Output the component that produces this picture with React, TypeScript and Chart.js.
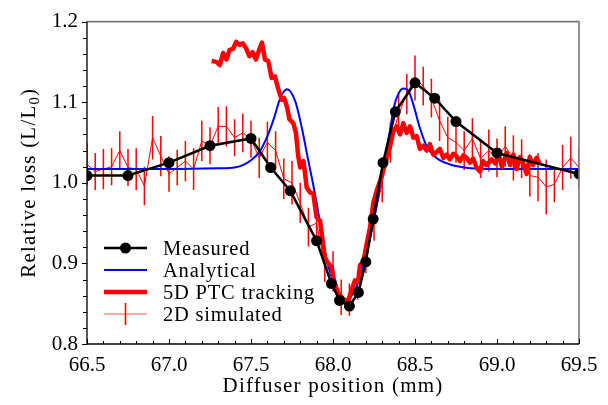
import React, { useEffect, useRef } from "react";
import { Chart, registerables } from "chart.js";

Chart.register(...registerables);

// Measured beam loss vs diffuser position
const measuredX = [66.5, 66.75, 67.0, 67.25, 67.5, 67.62, 67.74, 67.9, 67.99, 68.04, 68.1, 68.155, 68.2, 68.245, 68.305, 68.38, 68.5, 68.62, 68.75, 69.0, 69.5];
const measuredY = [1.009, 1.009, 1.025, 1.046, 1.055, 1.019, 0.99, 0.928, 0.875, 0.854, 0.847, 0.864, 0.902, 0.955, 1.025, 1.088, 1.124, 1.105, 1.076, 1.037, 1.011];

// Analytical model
const analyticX = [66.5, 67.0, 67.3, 67.4, 67.45, 67.5, 67.55, 67.6, 67.64, 67.68, 67.72, 67.77, 67.81, 67.85, 67.88, 67.9, 67.93, 67.96, 67.99, 68.03, 68.08, 68.12, 68.165, 68.205, 68.245, 68.285, 68.325, 68.35, 68.37, 68.4, 68.43, 68.46, 68.49, 68.53, 68.57, 68.63, 68.71, 68.8, 69.0, 69.5];
const analyticY = [1.017, 1.017, 1.018, 1.019, 1.022, 1.028, 1.038, 1.058, 1.08, 1.106, 1.116, 1.101, 1.068, 1.027, 0.997, 0.975, 0.94, 0.906, 0.884, 0.864, 0.854, 0.862, 0.883, 0.912, 0.949, 0.994, 1.04, 1.068, 1.093, 1.111, 1.117, 1.114, 1.097, 1.068, 1.046, 1.031, 1.023, 1.019, 1.017, 1.017];

// 5D PTC tracking
const ptcX = [67.26, 67.29, 67.31, 67.33, 67.35, 67.37, 67.39, 67.41, 67.43, 67.45, 67.47, 67.49, 67.51, 67.53, 67.55, 67.567, 67.585, 67.605, 67.626, 67.646, 67.667, 67.687, 67.703, 67.721, 67.734, 67.758, 67.774, 67.788, 67.8, 67.82, 67.84, 67.86, 67.88, 67.9, 67.921, 67.937, 67.951, 67.971, 67.992, 68.012, 68.032, 68.053, 68.073, 68.093, 68.114, 68.134, 68.154, 68.165, 68.185, 68.205, 68.226, 68.246, 68.266, 68.287, 68.317, 68.348, 68.368, 68.388, 68.409, 68.429, 68.449, 68.47, 68.49, 68.51, 68.53, 68.551, 68.571, 68.591, 68.612, 68.632, 68.652, 68.673, 68.693, 68.713, 68.734, 68.754, 68.774, 68.795, 68.815, 68.835, 68.855, 68.875, 68.896, 68.915, 68.935, 68.968, 68.99, 69.01, 69.03, 69.059, 69.08, 69.1, 69.12, 69.14, 69.16, 69.181, 69.2, 69.22, 69.242, 69.262];
const ptcY = [1.151, 1.15, 1.146, 1.161, 1.153, 1.165, 1.166, 1.175, 1.171, 1.173, 1.167, 1.157, 1.162, 1.153, 1.165, 1.174, 1.153, 1.151, 1.13, 1.132, 1.116, 1.103, 1.105, 1.093, 1.079, 1.074, 1.062, 1.033, 1.019, 1.027, 0.994, 0.988, 0.986, 0.957, 0.953, 0.928, 0.907, 0.9, 0.896, 0.871, 0.863, 0.858, 0.854, 0.854, 0.867, 0.879, 0.877, 0.898, 0.902, 0.924, 0.945, 0.975, 0.99, 1.002, 1.023, 1.045, 1.064, 1.07, 1.06, 1.074, 1.062, 1.07, 1.056, 1.058, 1.042, 1.046, 1.04, 1.048, 1.035, 1.038, 1.042, 1.031, 1.035, 1.029, 1.036, 1.033, 1.027, 1.034, 1.031, 1.025, 1.03, 1.019, 1.014, 1.027, 1.022, 1.029, 1.024, 1.035, 1.02, 1.037, 1.022, 1.035, 1.017, 1.032, 1.024, 1.011, 1.032, 1.022, 1.031, 1.023];

// 2D simulation with statistical uncertainty
const simX = [66.5, 66.55, 66.6, 66.65, 66.7, 66.75, 66.8, 66.85, 66.9, 66.95, 67.0, 67.05, 67.1, 67.15, 67.2, 67.25, 67.3, 67.35, 67.4, 67.45, 67.5, 67.55, 67.6, 67.65, 67.7, 67.75, 67.8, 67.85, 67.9, 67.95, 68.0, 68.05, 68.1, 68.15, 68.2, 68.25, 68.3, 68.35, 68.4, 68.45, 68.5, 68.55, 68.6, 68.65, 68.7, 68.75, 68.8, 68.85, 68.9, 68.95, 69.0, 69.05, 69.1, 69.15, 69.2, 69.25, 69.3, 69.35, 69.4, 69.45, 69.5];
const simY = [1.023, 1.014, 1.017, 1.02, 1.04, 1.019, 1.017, 0.996, 1.056, 1.033, 1.011, 1.019, 1.027, 1.017, 1.052, 1.046, 1.07, 1.07, 1.056, 1.062, 1.054, 1.031, 1.05, 1.04, 1.005, 1.0, 0.975, 0.945, 0.95, 0.897, 0.89, 0.858, 0.855, 0.873, 0.908, 0.953, 1.0, 1.05, 1.085, 1.11, 1.13, 1.12, 1.105, 1.077, 1.056, 1.05, 1.04, 1.055, 1.03, 1.04, 1.031, 1.045, 1.031, 1.03, 1.009, 1.007, 0.995, 0.998, 1.019, 1.031, 1.019];
const simErr = [0.026, 0.023, 0.025, 0.023, 0.024, 0.023, 0.026, 0.024, 0.027, 0.025, 0.022, 0.022, 0.025, 0.026, 0.025, 0.023, 0.024, 0.025, 0.023, 0.024, 0.023, 0.025, 0.026, 0.024, 0.025, 0.027, 0.025, 0.024, 0.025, 0.02, 0.025, 0.022, 0.02, 0.018, 0.02, 0.025, 0.024, 0.025, 0.026, 0.025, 0.028, 0.024, 0.024, 0.025, 0.026, 0.025, 0.024, 0.025, 0.024, 0.026, 0.024, 0.025, 0.028, 0.024, 0.026, 0.03, 0.034, 0.022, 0.028, 0.026, 0.025];

const xMin = 66.5;
const xMax = 69.5;
const yMin = 0.8;
const yMax = 1.2;

const legendLabels = ["Measured", "Analytical", "5D PTC tracking", "2D simulated"];
const xTitle = "Diffuser position (mm)";
const yTitleMain = "Relative loss (L/L";
const yTitleSub = "0";
const yTitleEnd = ")";

const SERIF = '"Liberation Serif", "Times New Roman", serif';
const TICK_SIZE = 21;
const TITLE_SIZE = 21;
const LEGEND_SIZE = 20.5;
const RED = "#ff0000";
const BLUE = "#0000ff";

const toPoints = (xs: number[], ys: number[]) => xs.map((x, i) => ({ x, y: ys[i] }));

// Error bars for the 2D simulated series, drawn right after that dataset
const errorBarPlugin = {
  id: "errorBars",
  afterDatasetDraw(chart: any, args: any) {
    if (args.index !== 3) return;
    const { ctx, chartArea: a, scales } = chart;
    ctx.save();
    ctx.beginPath();
    ctx.rect(a.left, a.top, a.right - a.left, a.bottom - a.top);
    ctx.clip();
    ctx.strokeStyle = RED;
    ctx.lineWidth = 1.5;
    simX.forEach((x, i) => {
      const px = scales.x.getPixelForValue(x);
      const y1 = scales.y.getPixelForValue(simY[i] - simErr[i]);
      const y2 = scales.y.getPixelForValue(simY[i] + simErr[i]);
      ctx.beginPath();
      ctx.moveTo(px, y1);
      ctx.lineTo(px, y2);
      ctx.stroke();
    });
    ctx.restore();
  },
};

// Frame: spines, tick marks, axis titles and legend
const framePlugin = {
  id: "frame",
  afterDraw(chart: any) {
    const { ctx, chartArea: a, scales } = chart;
    ctx.save();

    // top & right spines
    ctx.strokeStyle = "#777777";
    ctx.lineWidth = 1.6;
    ctx.beginPath();
    ctx.moveTo(a.left, a.top);
    ctx.lineTo(a.right, a.top);
    ctx.lineTo(a.right, a.bottom);
    ctx.stroke();

    // left & bottom spines
    ctx.strokeStyle = "#000000";
    ctx.lineWidth = 1.3;
    ctx.beginPath();
    ctx.moveTo(a.left, a.top);
    ctx.lineTo(a.left, a.bottom);
    ctx.lineTo(a.right, a.bottom);
    ctx.stroke();

    // x ticks (inward), every 0.1, major every 0.5
    ctx.lineWidth = 1;
    const nx = Math.round((xMax - xMin) / 0.1);
    for (let i = 0; i <= nx; i++) {
      const v = xMin + i * 0.1;
      const px = Math.round(scales.x.getPixelForValue(v)) + 0.5;
      const len = i % 5 === 0 ? 5 : 3;
      ctx.beginPath();
      ctx.moveTo(px, a.bottom);
      ctx.lineTo(px, a.bottom - len);
      ctx.stroke();
    }
    // y ticks (outward), every 0.02, major every 0.1
    const ny = Math.round((yMax - yMin) / 0.02);
    for (let i = 0; i <= ny; i++) {
      const v = yMin + i * 0.02;
      const py = Math.round(scales.y.getPixelForValue(v)) + 0.5;
      const len = i % 5 === 0 ? 5 : 4;
      ctx.beginPath();
      ctx.moveTo(a.left, py);
      ctx.lineTo(a.left - len, py);
      ctx.stroke();
    }

    // axis titles
    ctx.fillStyle = "#000";
    ctx.font = `${TITLE_SIZE}px ${SERIF}`;
    ctx.letterSpacing = "1.2px";
    ctx.textAlign = "center";
    ctx.textBaseline = "alphabetic";
    ctx.fillText(xTitle, (a.left + a.right) / 2, 392);

    ctx.save();
    ctx.translate(35, (a.top + a.bottom) / 2);
    ctx.rotate(-Math.PI / 2);
    const subFont = `${TITLE_SIZE * 0.7}px ${SERIF}`;
    const mainFont = `${TITLE_SIZE}px ${SERIF}`;
    ctx.font = mainFont;
    const w1 = ctx.measureText(yTitleMain).width;
    const w3 = ctx.measureText(yTitleEnd).width;
    ctx.font = subFont;
    const w2 = ctx.measureText(yTitleSub).width;
    const total = w1 + w2 + w3;
    let cx = -total / 2;
    ctx.textAlign = "left";
    ctx.font = mainFont;
    ctx.fillText(yTitleMain, cx, 0);
    cx += w1;
    ctx.font = subFont;
    ctx.fillText(yTitleSub, cx, 4);
    cx += w2;
    ctx.font = mainFont;
    ctx.fillText(yTitleEnd, cx, 0);
    ctx.restore();

    // legend
    const rows = [248, 270, 292, 314];
    const lx1 = 104;
    const lx2 = 147;
    const lxc = (lx1 + lx2) / 2;
    const tx = 163;
    ctx.lineCap = "butt";
    // Measured
    ctx.strokeStyle = "#000";
    ctx.lineWidth = 2.5;
    ctx.beginPath();
    ctx.moveTo(lx1, rows[0]);
    ctx.lineTo(lx2, rows[0]);
    ctx.stroke();
    ctx.fillStyle = "#000";
    ctx.beginPath();
    ctx.arc(lxc, rows[0], 5.5, 0, Math.PI * 2);
    ctx.fill();
    // Analytical
    ctx.strokeStyle = BLUE;
    ctx.lineWidth = 2;
    ctx.beginPath();
    ctx.moveTo(lx1, rows[1]);
    ctx.lineTo(lx2, rows[1]);
    ctx.stroke();
    // 5D PTC
    ctx.strokeStyle = RED;
    ctx.lineWidth = 4.5;
    ctx.beginPath();
    ctx.moveTo(lx1, rows[2]);
    ctx.lineTo(lx2, rows[2]);
    ctx.stroke();
    // 2D simulated
    ctx.strokeStyle = "#ff5a5a";
    ctx.lineWidth = 1.2;
    ctx.beginPath();
    ctx.moveTo(lx1, rows[3]);
    ctx.lineTo(lx2, rows[3]);
    ctx.stroke();
    ctx.lineWidth = 1.6;
    ctx.strokeStyle = RED;
    ctx.beginPath();
    ctx.moveTo(lxc, rows[3] - 11);
    ctx.lineTo(lxc, rows[3] + 11);
    ctx.stroke();

    ctx.fillStyle = "#000";
    ctx.font = `${LEGEND_SIZE}px ${SERIF}`;
    ctx.letterSpacing = "0.8px";
    ctx.textAlign = "left";
    ctx.textBaseline = "alphabetic";
    legendLabels.forEach((t, i) => ctx.fillText(t, tx, rows[i] + 7));

    ctx.letterSpacing = "0px";
    ctx.restore();
  },
};

export default function App() {
  const canvasRef = useRef<HTMLCanvasElement | null>(null);

  useEffect(() => {
    const canvas = canvasRef.current;
    if (!canvas) return;
    const chart = new Chart(canvas, {
      type: "line",
      data: {
        datasets: [
          {
            label: legendLabels[0],
            data: toPoints(measuredX, measuredY),
            borderColor: "#000",
            backgroundColor: "#000",
            borderWidth: 2.5,
            pointRadius: 5.5,
            pointBorderWidth: 0,
            pointBackgroundColor: "#000",
            tension: 0,
            clip: 0,
          },
          {
            label: legendLabels[2],
            data: toPoints(ptcX, ptcY),
            borderColor: RED,
            borderWidth: 4.5,
            pointRadius: 0,
            borderJoinStyle: "round",
            tension: 0,
            clip: 0,
          },
          {
            label: legendLabels[1],
            data: toPoints(analyticX, analyticY),
            borderColor: BLUE,
            borderWidth: 2,
            pointRadius: 0,
            cubicInterpolationMode: "monotone",
            clip: 0,
          },
          {
            label: legendLabels[3],
            data: toPoints(simX, simY),
            borderColor: RED,
            borderWidth: 1,
            pointRadius: 0,
            tension: 0,
            clip: 0,
          },
        ],
      } as any,
      options: {
        responsive: false,
        animation: false,
        devicePixelRatio: 1,
        parsing: false,
        layout: { padding: { left: 0, top: 20, right: 29, bottom: 0 } },
        plugins: {
          legend: { display: false },
          tooltip: { enabled: false },
        },
        scales: {
          x: {
            type: "linear",
            min: xMin,
            max: xMax,
            grid: { display: false, drawTicks: false },
            border: { display: false },
            ticks: {
              stepSize: 0.5,
              autoSkip: false,
              maxRotation: 0,
              padding: 9,
              color: "#000",
              font: { family: SERIF, size: TICK_SIZE },
              callback: (v: any) => Number(v).toFixed(1),
            },
            afterFit: (s: any) => {
              s.height = 61;
            },
          },
          y: {
            type: "linear",
            min: yMin,
            max: yMax,
            grid: { display: false, drawTicks: false },
            border: { display: false },
            ticks: {
              stepSize: 0.1,
              padding: 9,
              color: "#000",
              font: { family: SERIF, size: TICK_SIZE },
              callback: (v: any) => Number(v).toFixed(1),
            },
            afterFit: (s: any) => {
              s.width = 87;
            },
          },
        },
      } as any,
      plugins: [errorBarPlugin, framePlugin],
    });
    return () => chart.destroy();
  }, []);

  return (
    <div style={{ position: "fixed", left: 0, top: 0, width: 608, height: 405, background: "#fff" }}>
      <canvas ref={canvasRef} width={608} height={405} style={{ width: 608, height: 405 }} />
    </div>
  );
}
